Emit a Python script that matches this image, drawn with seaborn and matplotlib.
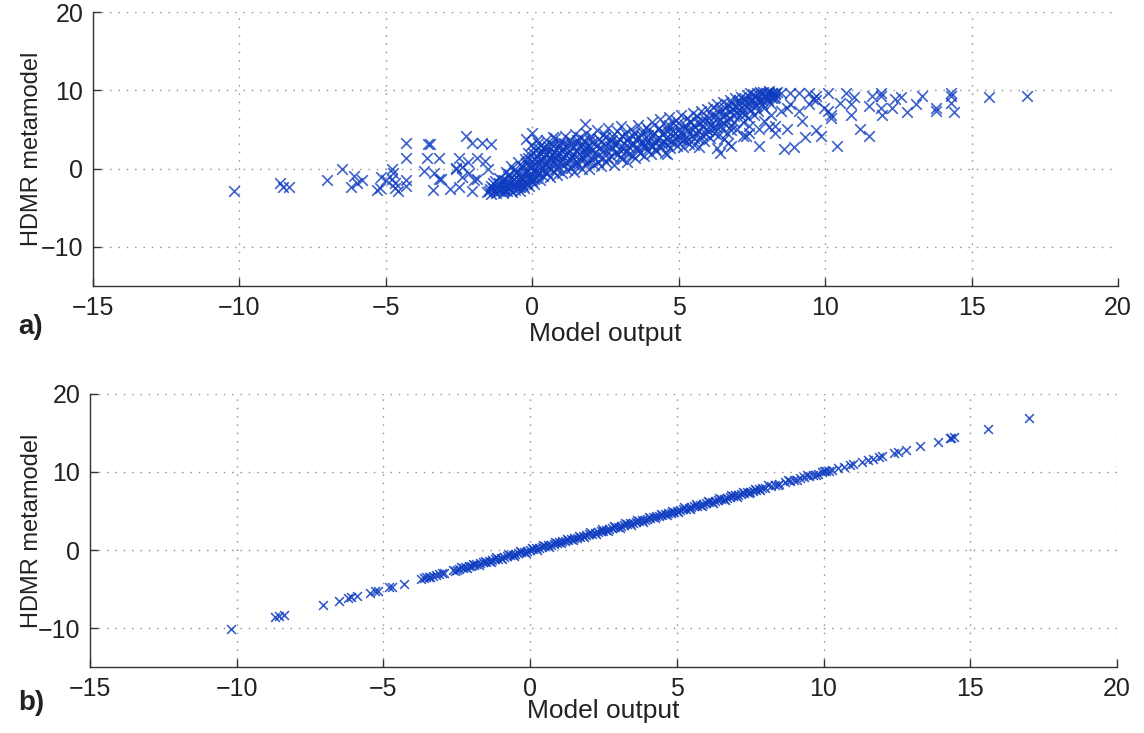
import matplotlib
matplotlib.use("Agg")
import matplotlib.pyplot as plt
import seaborn as sns
import pandas as pd

# ---------------- data ----------------
# Panel a) : scattered points outside the main band
sparse_x = [-10.2, -8.6, -8.5, -8.3, -7.0, -6.5, -6.1, -6.2, -6.0, -5.8, -5.3, -5.2, -5.15, -5.0,
            -4.8, -4.8, -4.75, -4.7, -4.7, -4.6, -4.3, -4.3, -4.3, -4.3, -3.55, -3.6, -3.2, -3.7,
            -3.35, -3.2, -3.1, -3.4, -2.8, -2.25, -2.05, -1.7, -1.4, -2.5, -2.2, -1.9, -2.6, -2.4,
            -2.0, -2.5, -2.05, -2.15, -1.6, -1.5, -1.9, -2.6, -2.4, -3.5,
            -0.2, 0.0, 0.15, 0.7, 0.35, 1.8,
            8.5, 9.1, 10.1, 10.7, 11.0, 11.6, 11.9, 12.4, 12.6, 13.3, 14.3, 14.3, 15.6, 16.9,
            8.7, 8.8, 9.2, 9.45, 9.6, 9.95, 10.2, 10.5, 10.9, 10.9, 11.2, 11.5, 11.5, 11.9, 11.95,
            12.3, 12.8, 13.1, 13.8, 13.8, 14.4, 10.4, 9.7, 9.85, 9.3, 8.95, 8.6, 8.7, 8.3, 8.3,
            7.75, 7.75, 8.1, 7.4, 7.2, 6.8, 6.7, 6.4, 6.3, 6.8, 6.55, 7.4, 7.9, 8.15, 8.5, 9.1,
            9.7, 10.1, 10.2, 8.3, 8.8, 9.45, 9.7, 11.9, 14.3, 5.7, 4.6, 7.3]
sparse_y = [-2.9, -1.9, -2.3, -2.4, -1.5, 0.0, -0.9, -2.4, -1.8, -1.5, -2.7, -2.5, -1.1, -1.5,
            0.0, -1.3, -0.5, -1.8, -2.5, -2.8, 3.3, 1.3, -1.5, -2.2, 3.1, 1.4, 1.3, -0.25,
            -0.5, -1.3, -1.3, -2.7, -2.6, 4.2, 3.3, 3.3, 3.2, 1.4, 0.8, 1.4, 0.1, -1.1,
            -1.5, -2.4, -2.8, -0.5, 1.0, 0.0, -1.3, 0.0, 0.2, 3.2,
            3.8, 4.5, 3.6, 4.0, 2.6, 5.7,
            9.6, 9.6, 9.7, 9.7, 9.1, 9.3, 9.3, 8.9, 9.1, 9.3, 9.3, 8.4, 9.1, 9.3,
            7.7, 8.3, 6.1, 8.3, 8.9, 7.7, 6.4, 8.4, 8.3, 6.8, 5.1, 4.2, 8.0, 7.8, 6.8,
            7.8, 7.2, 8.3, 7.8, 7.4, 7.2, 2.9, 4.9, 4.2, 4.0, 2.7, 2.5, 5.1, 4.5, 5.5,
            2.9, 5.1, 5.3, 4.6, 4.2, 4.9, 3.3, 2.0, 2.6, 2.9, 3.8, 5.5, 6.1, 6.8, 7.4, 7.4,
            8.7, 7.4, 6.8, 9.1, 9.7, 9.7, 9.3, 9.6, 9.6, 2.7, 1.9, 4.2]

# Panel a) : the dense band (outer part)
band_x = [-1.55, -1.45, -1.40, -1.35, -1.30, -1.25, -1.20, -1.15, -1.10, -1.05, -1.00, -0.98, -0.95, -0.90, -0.88,
          -0.85, -0.82, -0.78, -0.75, -0.72, -0.70, -0.66, -0.62, -0.60, -0.56, -0.53, -0.50, -0.47, -0.45, -0.42, -0.38, -0.35, -0.32, -0.30,
          -0.27, -0.24, -0.21, -0.18, -0.15, -0.12, -0.10, -0.07, -0.04, -0.02, 0.00, 0.03, 0.05, 0.08, 0.10, 0.12, 0.15, 0.18, 0.20, 0.23, 0.26, 0.28,
          0.31, 0.34, 0.37, 0.40, 0.43, 0.46, 0.49, 0.52, 0.55, 0.58, 0.61, 0.64, 0.67, 0.70, 0.73, 0.76, 0.79, 0.82, 0.85, 0.88, 0.91, 0.94, 0.97,
          1.00, 1.03, 1.06, 1.09, 1.12, 1.15, 1.18, 1.21, 1.24, 1.27, 1.30, 1.33, 1.36, 1.39, 1.42, 1.45, 1.48, 1.51, 1.54, 1.57, 1.60, 1.63, 1.66,
          1.70, 1.73, 1.76, 1.79, 1.82, 1.85, 1.88, 1.91, 1.94, 1.97, 2.00, 2.04, 2.08, 2.12, 2.16, 2.20, 2.24, 2.28, 2.32, 2.36, 2.40, 2.44, 2.48,
          2.52, 2.56, 2.60, 2.64, 2.68, 2.72, 2.76, 2.80, 2.84, 2.88, 2.92, 2.96, 3.00, 3.04, 3.08, 3.12, 3.16, 3.20, 3.24, 3.28, 3.32, 3.36, 3.40, 3.44, 3.48,
          3.52, 3.56, 3.60, 3.64, 3.68, 3.72, 3.76, 3.80, 3.84, 3.88, 3.92, 3.96, 4.00, 4.04, 4.08, 4.12, 4.16, 4.20, 4.24, 4.28, 4.32, 4.36, 4.40, 4.44, 4.48,
          4.52, 4.56, 4.60, 4.64, 4.68, 4.72, 4.76, 4.80, 4.84, 4.88, 4.92, 4.96, 5.00, 5.04, 5.08, 5.12, 5.16, 5.20, 5.24, 5.28, 5.32, 5.36, 5.40, 5.44, 5.48,
          5.52, 5.56, 5.60, 5.64, 5.68, 5.72, 5.76, 5.80, 5.84, 5.88, 5.92, 5.96, 6.00, 6.04, 6.08, 6.12, 6.16, 6.20, 6.24, 6.28, 6.32, 6.36, 6.40, 6.44, 6.48,
          6.52, 6.56, 6.60, 6.64, 6.68, 6.72, 6.76, 6.80, 6.84, 6.88, 6.92, 6.96, 7.00, 7.04, 7.08, 7.12, 7.16, 7.20, 7.24, 7.28, 7.32, 7.36, 7.40, 7.44, 7.48,
          7.52, 7.56, 7.60, 7.64, 7.68, 7.72, 7.76, 7.80, 7.84, 7.88, 7.92, 7.96, 8.00, 8.04, 8.08, 8.12, 8.16, 8.20, 8.25, 8.30, 8.36]
band_y = [-3.0, -2.6, -3.2, -1.9, -2.8, -3.1, -2.3, -1.2, -2.9, -2.0, -3.1, -2.6, -1.5, -0.4, -2.2,
          -2.9, -1.0, -2.5, -1.8, 0.3, -3.0, -2.1, -1.3, -2.7, -0.6, -1.9, -2.4, 0.8, -1.5, -2.8, -0.9, -2.0, 0.2, -1.3,
          -2.5, 1.2, -0.5, -1.8, 2.0, -2.2, 0.4, -1.1, 3.0, -1.6, 1.0, -0.3, -2.0, 2.4, 0.0, -1.2, 1.6, -0.8, 3.3, 0.6, -1.5, 2.0,
          -0.2, 1.2, -1.0, 2.8, 0.5, 3.7, -0.6, 1.8, 0.2, 2.4, -1.1, 1.0, 3.2, -0.3, 2.1, 0.7, 3.9, 1.4, -0.8, 2.7, 0.2, 1.9, 3.4,
          -0.5, 1.1, 2.5, 0.4, 4.1, 1.7, -0.2, 3.0, 0.9, 2.2, 3.7, 0.1, 1.5, 2.8, -0.4, 4.4, 1.0, 2.4, 3.3, 0.5, 1.9, 4.0, 2.9,
          0.0, 1.4, 3.6, 2.3, 0.7, 4.6, 1.9, 3.0, -0.1, 2.6, 4.1, 1.1, 3.4, 0.5, 2.1, 4.9, 1.6, 3.8, 2.7, 0.3, 1.3, 4.4, 3.0,
          0.8, 2.2, 5.2, 3.5, 1.6, 4.1, 2.6, 0.5, 3.1, 4.8, 1.9, 3.8, 2.4, 5.4, 1.2, 3.3, 4.5, 2.1, 0.9, 3.9, 2.8, 5.0, 1.7, 4.2, 3.2,
          1.3, 2.6, 5.6, 4.0, 2.0, 3.4, 4.7, 1.6, 3.0, 5.3, 2.4, 4.3, 3.6, 1.8, 5.9, 2.9, 4.6, 3.3, 2.2, 5.1, 3.9, 6.3, 2.7, 4.4, 3.5,
          2.0, 5.5, 3.1, 4.8, 6.6, 2.6, 4.1, 5.8, 3.4, 4.6, 6.2, 2.9, 5.0, 3.8, 6.9, 4.4, 2.7, 5.6, 3.5, 6.4, 4.9, 3.2, 5.9, 4.2, 7.1,
          3.0, 5.3, 4.6, 6.7, 3.8, 5.8, 7.3, 4.3, 6.1, 3.5, 5.1, 7.6, 4.8, 6.4, 3.9, 5.6, 7.9, 4.5, 6.9, 5.3, 8.2, 4.2, 6.2, 7.4, 5.0,
          8.5, 5.8, 7.0, 4.6, 8.1, 6.5, 8.8, 5.4, 7.6, 6.0, 9.0, 7.2, 5.1, 8.4, 6.8, 9.2, 7.8, 5.9, 8.7, 7.0, 9.4, 6.4, 8.2, 9.6, 7.5,
          8.9, 6.9, 9.3, 8.0, 9.7, 7.4, 8.6, 9.5, 8.3, 9.8, 7.8, 9.1, 9.6, 8.7, 9.9, 9.3, 8.2, 9.7, 9.0, 9.5, 9.8]

# Panel a) : the dense band (core)
core_x = [-1.48, -1.42, -1.33, -1.27, -1.18, -1.12, -1.07, -1.02, -0.96, -0.93, -0.87, -0.83, -0.79, -0.74, -0.69,
          -0.64, -0.58, -0.55, -0.51, -0.48, -0.43, -0.40, -0.36, -0.33, -0.29, -0.25, -0.22, -0.19, -0.16, -0.13,
          -0.09, -0.06, -0.03, 0.01, 0.04, 0.07, 0.11, 0.14, 0.17, 0.21, 0.24, 0.27, 0.32, 0.36, 0.41, 0.45, 0.50,
          0.54, 0.59, 0.63, 0.68, 0.72, 0.77, 0.81, 0.86, 0.90, 0.95, 0.99, 1.04, 1.10, 1.16, 1.22, 1.28, 1.34,
          1.40, 1.46, 1.52, 1.58, 1.64, 1.71, 1.78, 1.84, 1.90, 1.96, 2.02, 2.10, 2.18, 2.26, 2.34, 2.42, 2.50,
          2.58, 2.66, 2.74, 2.82, 2.90, 2.98, 3.06, 3.14, 3.22, 3.30, 3.38, 3.46, 3.54, 3.62, 3.70, 3.78, 3.86,
          3.94, 4.02, 4.10, 4.18, 4.26, 4.34, 4.42, 4.50, 4.58, 4.66, 4.74, 4.82, 4.90, 4.98, 5.06, 5.14, 5.22,
          5.30, 5.38, 5.46, 5.54, 5.62, 5.70, 5.78, 5.86, 5.94, 6.02, 6.10, 6.18, 6.26, 6.34, 6.42, 6.50, 6.58,
          6.66, 6.74, 6.82, 6.90, 6.98, 7.06, 7.14, 7.22, 7.30, 7.38, 7.46, 7.54, 7.62, 7.70, 7.78, 7.86, 7.94,
          8.02, 8.10, 8.18, 8.28]
core_y = [-2.9, -2.2, -2.5, -1.6, -2.7, -1.9, -2.5, -1.4, -2.9, -2.1, -1.6, -2.4, -0.7, -2.7, -1.6,
          -0.2, -2.2, -1.1, -0.3, -1.8, -2.4, 0.3, -1.4, -2.2, -0.5, -1.1, 0.7, -2.0, -0.2, 1.3,
          -1.5, 0.2, -0.9, 2.0, 0.5, -1.3, 1.3, -0.4, 0.9, 2.6, -0.6, 1.1, 0.4, 2.1, 1.5, -0.4, 0.9,
          2.9, 1.3, 0.0, 1.7, 2.9, 1.1, -0.1, 1.8, 3.0, 0.9, 2.4, 1.6, 3.3, 0.8, 2.0, 1.2, 3.2,
          1.9, 0.5, 3.6, 2.6, 1.2, 3.1, 1.7, 2.6, 0.9, 3.7, 2.2, 1.5, 2.9, 0.9, 3.4, 2.3, 4.0,
          1.4, 2.9, 3.7, 2.0, 3.3, 1.5, 4.2, 2.6, 3.7, 1.9, 3.1, 4.6, 3.6, 2.2, 4.3, 3.3, 2.7,
          4.9, 3.0, 4.2, 2.5, 3.8, 5.2, 3.1, 4.6, 3.9, 5.6, 3.4, 4.8, 3.9, 5.8, 4.6, 3.6, 5.2,
          4.0, 6.1, 5.0, 3.9, 6.0, 4.8, 5.5, 6.5, 4.4, 5.9, 6.9, 5.2, 6.3, 7.3, 5.6, 6.8, 7.7,
          6.1, 7.3, 8.3, 6.7, 7.9, 8.8, 7.2, 8.2, 8.9, 7.7, 8.6, 9.5, 8.4, 9.0, 9.8, 8.8, 9.4,
          9.2, 9.6, 9.0, 9.7]

# Panel b) : model output vs HDMR metamodel
model_output_b = [-10.2, -8.7, -8.55, -8.4, -7.05, -6.5, -6.2, -6.1, -5.9, -5.45, -5.3, -5.2, -4.8, -4.7, -4.3,
                  -3.72, -3.62, -3.55, -3.46, -3.4, -3.3, -3.22, -3.12, -3.02, -2.93,
                  -2.62, -2.5, -2.41, -2.3, -2.22, -2.1, -2.02, -1.9, -1.83, -1.71, -1.6, -1.52, -1.4, -1.31, -1.2, -1.1,
                  -1.0, -0.9, -0.8, -0.7, -0.6, -0.5, -0.4, -0.3, -0.2, -0.1, 0.0, 0.1, 0.2, 0.3, 0.4, 0.5, 0.6, 0.7, 0.8, 0.9,
                  1.0, 1.1, 1.2, 1.3, 1.4, 1.5, 1.6, 1.7, 1.8, 1.9, 2.0, 2.1, 2.2, 2.3, 2.4, 2.5, 2.6, 2.7, 2.8, 2.9,
                  3.0, 3.1, 3.2, 3.3, 3.4, 3.5, 3.6, 3.7, 3.8, 3.9, 4.0, 4.1, 4.2, 4.3, 4.4, 4.5, 4.6, 4.7, 4.8, 4.9,
                  5.0, 5.1, 5.2, 5.3, 5.4, 5.5, 5.6, 5.7, 5.8, 5.9, 6.0, 6.1, 6.2, 6.3, 6.4, 6.5, 6.6, 6.7, 6.8, 6.9,
                  7.0, 7.1, 7.2, 7.3, 7.4, 7.5, 7.6, 7.7, 7.8, 7.9, 8.0, 8.2, 8.35, 8.5, 8.7, 8.85, 9.0, 9.2, 9.35,
                  9.5, 9.65, 9.8, 9.95, 10.1, 10.3, 10.5, 10.7, 10.9, 11.0, 11.3, 11.5, 11.7, 11.9, 12.0, 12.4, 12.55,
                  12.8, 13.3, 13.9, 14.3, 14.35, 14.45, 15.6, 17.0,
                  -2.55, -2.35, -2.15, -1.95, -1.75, -1.55, -1.35, -1.15, -0.95, -0.75, -0.55, -0.35, -0.15,
                  0.05, 0.25, 0.45, 0.65, 0.85, 1.05, 1.25, 1.45, 1.65, 1.85, 2.05, 2.25, 2.45, 2.65, 2.85,
                  3.05, 3.25, 3.45, 3.65, 3.85, 4.05, 4.25, 4.45, 4.65, 4.85, 5.05, 5.25, 5.45, 5.65, 5.85,
                  6.05, 6.25, 6.45, 6.65, 6.85, 7.05, 7.25, 7.45, 7.65, 7.85, 8.1, 8.45, 8.8, 9.1, 9.45, 9.75,
                  10.0, 10.2]
hdmr_b = [-10.1, -8.6, -8.45, -8.3, -7.0, -6.5, -6.2, -6.05, -5.9, -5.45, -5.3, -5.2, -4.8, -4.75, -4.35,
          -3.7, -3.6, -3.5, -3.45, -3.4, -3.3, -3.2, -3.1, -3.0, -2.9,
          -2.6, -2.5, -2.4, -2.3, -2.2, -2.1, -2.0, -1.9, -1.8, -1.7, -1.6, -1.5, -1.4, -1.3, -1.2, -1.1,
          -1.0, -0.9, -0.8, -0.7, -0.6, -0.5, -0.4, -0.3, -0.2, -0.1, 0.0, 0.1, 0.2, 0.3, 0.4, 0.5, 0.6, 0.7, 0.8, 0.9,
          1.0, 1.1, 1.2, 1.3, 1.4, 1.5, 1.6, 1.7, 1.8, 1.9, 2.0, 2.1, 2.2, 2.3, 2.4, 2.5, 2.6, 2.7, 2.8, 2.9,
          3.0, 3.1, 3.2, 3.3, 3.4, 3.5, 3.6, 3.7, 3.8, 3.9, 4.0, 4.1, 4.2, 4.3, 4.4, 4.5, 4.6, 4.7, 4.8, 4.9,
          5.0, 5.1, 5.2, 5.3, 5.4, 5.5, 5.6, 5.7, 5.8, 5.9, 6.0, 6.1, 6.2, 6.3, 6.4, 6.5, 6.6, 6.7, 6.8, 6.9,
          7.0, 7.1, 7.2, 7.3, 7.4, 7.5, 7.6, 7.7, 7.8, 7.9, 8.0, 8.2, 8.35, 8.5, 8.7, 8.85, 9.0, 9.2, 9.35,
          9.5, 9.65, 9.8, 9.95, 10.1, 10.3, 10.5, 10.7, 10.9, 11.0, 11.3, 11.5, 11.7, 11.9, 12.0, 12.4, 12.55,
          12.8, 13.3, 13.9, 14.3, 14.35, 14.45, 15.5, 16.9,
          -2.75, -2.15, -2.35, -1.75, -1.95, -1.35, -1.55, -0.95, -1.15, -0.55, -0.75, -0.15, -0.35,
          0.25, 0.05, 0.65, 0.45, 1.05, 0.85, 1.45, 1.25, 1.85, 1.65, 2.25, 2.05, 2.65, 2.45, 3.05,
          2.85, 3.45, 3.25, 3.85, 3.65, 4.25, 4.05, 4.65, 4.45, 5.05, 4.85, 5.45, 5.25, 5.85, 5.65,
          6.25, 6.05, 6.65, 6.45, 7.05, 6.85, 7.45, 7.25, 7.85, 7.65, 8.3, 8.3, 9.0, 8.95, 9.6, 9.6,
          10.15, 10.1]

x_ticks = [-15, -10, -5, 0, 5, 10, 15, 20]
y_ticks = [-10, 0, 10, 20]
x_label = "Model output"
y_label = "HDMR metamodel"
panel_labels = ["a)", "b)"]

# ---------------- styling ----------------
sns.set_theme(style="white")
plt.rcParams["font.family"] = ["Liberation Sans", "DejaVu Sans"]

marker_color = "#0e3cc0"
text_color = "#222222"

fig = plt.figure(figsize=(11.44, 7.33), dpi=100)
ax_a = fig.add_axes([0.0813, 0.6098, 0.8959, 0.3738])
ax_b = fig.add_axes([0.0787, 0.0900, 0.8976, 0.3725])

df_a = pd.DataFrame({"x": sparse_x + band_x + core_x, "y": sparse_y + band_y + core_y})
df_b = pd.DataFrame({"x": model_output_b, "y": hdmr_b})

sns.scatterplot(data=df_a, x="x", y="y", ax=ax_a, marker="x", color=marker_color,
                s=58, linewidth=1.2, alpha=0.8, legend=False, zorder=3)
sns.scatterplot(data=df_b, x="x", y="y", ax=ax_b, marker="x", color=marker_color,
                s=40, linewidth=1.15, alpha=0.85, legend=False, zorder=3)


def fmt(t):
    return "\u2212" + str(abs(t)) if t < 0 else str(t)


setup = [(ax_a, panel_labels[0], 1 - 327 / 733, -0.049, -0.131),
         (ax_b, panel_labels[1], 1 - 703 / 733, -0.046, -0.118)]
for ax, lab, ypos, ylab_x, xlab_y in setup:
    ax.set_xlim(-15, 20)
    ax.set_ylim(-15, 20)
    ax.set_xticks(x_ticks)
    ax.set_yticks(y_ticks)
    ax.set_xticklabels([fmt(t) for t in x_ticks])
    ax.set_yticklabels([fmt(t) for t in y_ticks])
    ax.grid(True, linestyle=(0, (1, 5)), color="#8a8a8a", linewidth=1.0)
    ax.set_axisbelow(True)
    for side in ["top", "right"]:
        ax.spines[side].set_visible(False)
    for side in ["left", "bottom"]:
        ax.spines[side].set_visible(True)
        ax.spines[side].set_color("#333333")
        ax.spines[side].set_linewidth(1.0)
    ax.tick_params(axis="both", direction="in", length=6, width=1.0, colors="#333333",
                   labelsize=18, labelcolor=text_color, pad=7)
    ax.tick_params(axis="y", right=False, left=True)
    ax.tick_params(axis="x", top=False, bottom=True)
    ax.set_xlabel(x_label, fontsize=19, color=text_color)
    ax.set_ylabel(y_label, fontsize=17, color=text_color)
    ax.xaxis.set_label_coords(0.5, xlab_y)
    ax.yaxis.set_label_coords(ylab_x, 0.5)
    fig.text(0.016, ypos, lab, fontsize=20, fontweight="bold", color=text_color,
             ha="left", va="center")

fig.savefig("out.png", dpi=100)
